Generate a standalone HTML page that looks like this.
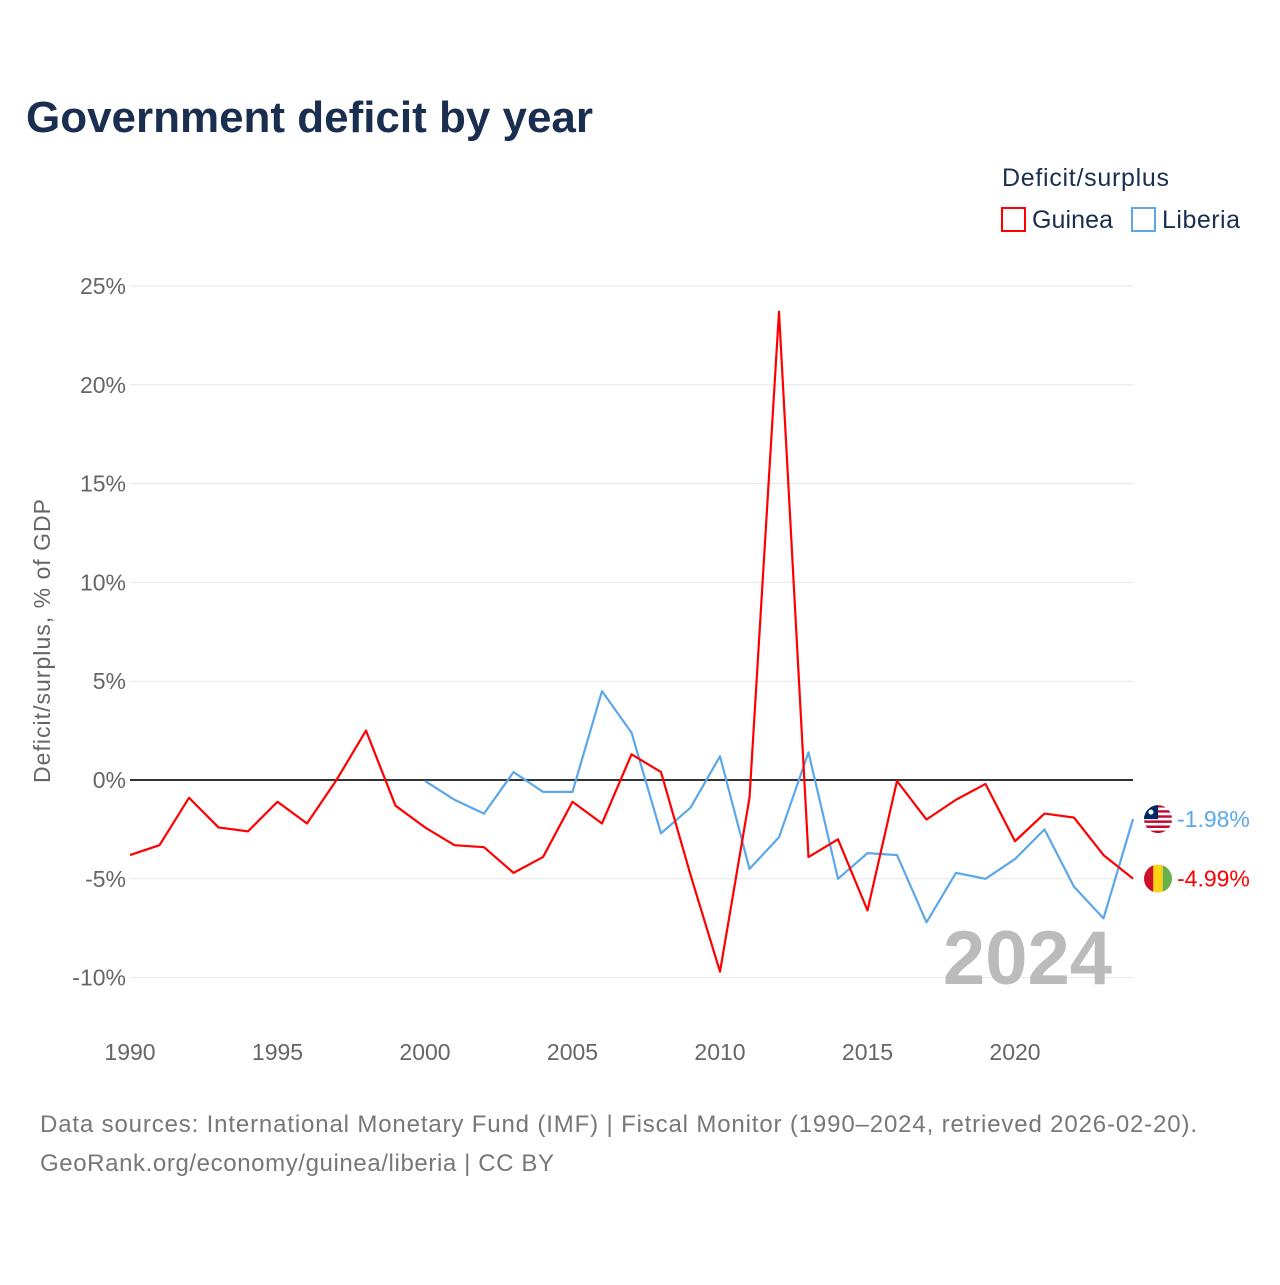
<!DOCTYPE html>
<html><head><meta charset="utf-8"><style>
body{margin:0;background:#fff;font-family:"Liberation Sans",sans-serif}
</style></head><body>
<svg id="chart" width="1280" height="1280" xmlns="http://www.w3.org/2000/svg" style="font-family:'Liberation Sans',sans-serif">
<defs>
<clipPath id="cl"><circle cx="0" cy="0" r="14"/></clipPath>
</defs>
<text x="26" y="132" font-size="44" font-weight="bold" fill="#1a2e4f" textLength="567">Government deficit by year</text>
<text x="1002" y="186" font-size="25" fill="#1a2e4f" textLength="167">Deficit/surplus</text>
<rect x="1002" y="208" width="23" height="23" fill="none" stroke="#f00" stroke-width="2"/>
<text x="1032" y="228" font-size="25" fill="#1a2e4f" textLength="81">Guinea</text>
<rect x="1132" y="208" width="23" height="23" fill="none" stroke="#5ba7ea" stroke-width="2"/>
<text x="1162" y="228" font-size="25" fill="#1a2e4f" textLength="78">Liberia</text>
<text transform="translate(50,641) rotate(-90)" text-anchor="middle" font-size="23" fill="#666" textLength="284">Deficit/surplus, % of GDP</text>
<g id="grid"></g>
<text x="1112" y="984" text-anchor="end" font-size="76" font-weight="bold" fill="#bbb">2024</text>
<g id="marks"></g>
<text x="40" y="1132" font-size="24" fill="#777" textLength="1157">Data sources: International Monetary Fund (IMF) | Fiscal Monitor (1990–2024, retrieved 2026-02-20).</text>
<text x="40" y="1171" font-size="24" fill="#777" textLength="514">GeoRank.org/economy/guinea/liberia | CC BY</text>
</svg>
<script>
const yTicks=[25,20,15,10,5,0,-5,-10];
const xTicks=[1990,1995,2000,2005,2010,2015,2020];
const guineaYears=[1990,1991,1992,1993,1994,1995,1996,1997,1998,1999,2000,2001,2002,2003,2004,2005,2006,2007,2008,2009,2010,2011,2012,2013,2014,2015,2016,2017,2018,2019,2020,2021,2022,2023,2024];
const guineaValues=[-3.8,-3.3,-0.9,-2.4,-2.6,-1.1,-2.2,0,2.5,-1.3,-2.4,-3.3,-3.4,-4.7,-3.9,-1.1,-2.2,1.3,0.4,-4.8,-9.7,-0.9,23.7,-3.9,-3.0,-6.6,-0.05,-2.0,-1.0,-0.2,-3.1,-1.7,-1.9,-3.8,-4.99];
const liberiaYears=[2000,2001,2002,2003,2004,2005,2006,2007,2008,2009,2010,2011,2012,2013,2014,2015,2016,2017,2018,2019,2020,2021,2022,2023,2024];
const liberiaValues=[-0.05,-1.0,-1.7,0.4,-0.6,-0.6,4.5,2.4,-2.7,-1.4,1.2,-4.5,-2.9,1.4,-5.0,-3.7,-3.8,-7.2,-4.7,-5.0,-4.0,-2.5,-5.4,-7.0,-1.98];
const NS="http://www.w3.org/2000/svg";
const xS=y=>130+(y-1990)*(1133-130)/34;
const yS=v=>780-v*19.76;
const grid=document.getElementById('grid'),marks=document.getElementById('marks');
function mk(tag,attrs,parent){const e=document.createElementNS(NS,tag);for(const k in attrs)e.setAttribute(k,attrs[k]);parent.appendChild(e);return e;}
yTicks.forEach(t=>{
  const l=mk('line',{x1:130,x2:1133,y1:yS(t),y2:yS(t),stroke:t===0?'#333':'#e6e6e6','stroke-width':t===0?2:1},grid);
  
  
  const tx=mk('text',{x:126,y:yS(t)+8,'text-anchor':'end','font-size':23,fill:'#666'},grid);
  tx.textContent=t+'%';
  
  
});
xTicks.forEach(t=>{
  const tx=mk('text',{x:xS(t),y:1060,'text-anchor':'middle','font-size':23,fill:'#666'},grid);
  tx.textContent=t;
  
  
});
function flag(g,name){
  if(name==='guinea'){
    mk('rect',{x:-14,y:-14,width:9.4,height:28,fill:'#ce1126'},g);
    mk('rect',{x:-4.7,y:-14,width:9.4,height:28,fill:'#fcd116'},g);
    mk('rect',{x:4.7,y:-14,width:9.4,height:28,fill:'#6ab04c'},g);
  } else {
    for(let i=0;i<11;i++) mk('rect',{x:-14,y:-14+i*28/11,width:28,height:28/11,fill:i%2?'#fff':'#bf0a30'},g);
    mk('rect',{x:-14,y:-14,width:14,height:14,fill:'#002868'},g);
    mk('circle',{cx:-7,cy:-7,r:2.5,fill:'#fff'},g);
  }
}
function series(years,vals,color,name){
  const p=mk('polyline',{points:years.map((y,i)=>xS(y)+','+yS(vals[i])).join(' '),fill:'none',stroke:color,'stroke-width':2.2,'stroke-linejoin':'round'},marks);
  
  
  const last=vals[vals.length-1],ly=yS(last);
  const g=mk('g',{transform:'translate(1158,'+ly+')','clip-path':'url(#cl)'},marks);
  
  
  flag(g,name);
  const t=mk('text',{x:1177,y:ly+8,'font-size':23,fill:color},marks);
  t.textContent=last.toFixed(2)+'%';
  
  
}
series(liberiaYears,liberiaValues,'#5ba7ea','liberia');
series(guineaYears,guineaValues,'#f00','guinea');
</script>
</body></html>
